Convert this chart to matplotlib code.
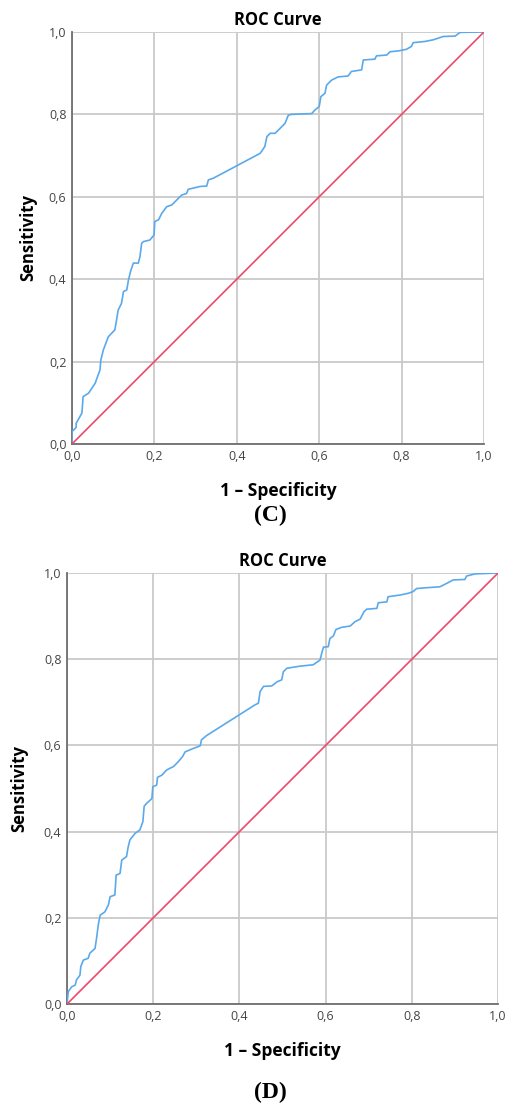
import matplotlib
matplotlib.use("Agg")
import matplotlib.pyplot as plt
from matplotlib.ticker import FuncFormatter

# ROC curve points (1 - specificity, sensitivity)
fpr_c = [0.0, 0.0, 0.01, 0.01, 0.024, 0.027, 0.04, 0.056, 0.068, 0.07, 0.076, 0.088,
         0.104, 0.108, 0.112, 0.12, 0.125, 0.133, 0.137, 0.143, 0.149, 0.161, 0.165,
         0.169, 0.173, 0.189, 0.199, 0.201, 0.21, 0.218, 0.23, 0.242, 0.254, 0.266,
         0.278, 0.282, 0.311, 0.327, 0.331, 0.343, 0.456, 0.46, 0.468, 0.473, 0.481,
         0.493, 0.505, 0.517, 0.525, 0.533, 0.582, 0.59, 0.6, 0.604, 0.614, 0.618,
         0.63, 0.646, 0.67, 0.678, 0.703, 0.707, 0.735, 0.739, 0.764, 0.772, 0.792,
         0.812, 0.824, 0.828, 0.857, 0.877, 0.901, 0.93, 0.942, 1.0]
tpr_c = [0.0, 0.03, 0.04, 0.05, 0.075, 0.115, 0.123, 0.147, 0.18, 0.204, 0.228, 0.26,
         0.277, 0.30, 0.325, 0.341, 0.37, 0.374, 0.398, 0.422, 0.439, 0.439, 0.455,
         0.487, 0.491, 0.495, 0.507, 0.54, 0.544, 0.56, 0.576, 0.58, 0.592, 0.604,
         0.608, 0.618, 0.625, 0.626, 0.641, 0.645, 0.705, 0.71, 0.722, 0.746, 0.754,
         0.754, 0.766, 0.778, 0.798, 0.80, 0.802, 0.811, 0.819, 0.843, 0.851, 0.871,
         0.883, 0.891, 0.893, 0.904, 0.908, 0.932, 0.934, 0.942, 0.944, 0.952, 0.954,
         0.958, 0.965, 0.974, 0.977, 0.981, 0.989, 0.99, 0.999, 1.0]

fpr_d = [0.0, 0.003, 0.011, 0.019, 0.022, 0.03, 0.032, 0.038, 0.049, 0.053, 0.065,
         0.069, 0.073, 0.077, 0.088, 0.096, 0.1, 0.111, 0.114, 0.123, 0.127, 0.138,
         0.142, 0.146, 0.158, 0.169, 0.176, 0.179, 0.185, 0.193, 0.197, 0.199, 0.208,
         0.21, 0.22, 0.231, 0.247, 0.258, 0.268, 0.274, 0.293, 0.309, 0.312, 0.324,
         0.436, 0.444, 0.448, 0.456, 0.475, 0.488, 0.498, 0.502, 0.51, 0.541, 0.571,
         0.587, 0.591, 0.595, 0.606, 0.61, 0.618, 0.624, 0.637, 0.657, 0.668, 0.68,
         0.689, 0.695, 0.719, 0.722, 0.742, 0.745, 0.773, 0.792, 0.803, 0.811, 0.835,
         0.865, 0.881, 0.896, 0.923, 0.927, 0.947, 1.0]
tpr_d = [0.0, 0.029, 0.04, 0.044, 0.056, 0.067, 0.087, 0.102, 0.106, 0.118, 0.129,
         0.156, 0.187, 0.206, 0.214, 0.23, 0.249, 0.253, 0.299, 0.303, 0.334, 0.342,
         0.365, 0.381, 0.396, 0.404, 0.423, 0.459, 0.466, 0.473, 0.477, 0.504, 0.508,
         0.526, 0.531, 0.543, 0.551, 0.562, 0.574, 0.585, 0.593, 0.599, 0.613, 0.623,
         0.694, 0.698, 0.725, 0.737, 0.738, 0.748, 0.752, 0.771, 0.779, 0.784, 0.787,
         0.798, 0.814, 0.828, 0.829, 0.848, 0.854, 0.869, 0.874, 0.877, 0.887, 0.893,
         0.91, 0.916, 0.918, 0.931, 0.933, 0.945, 0.949, 0.953, 0.957, 0.964, 0.966,
         0.968, 0.976, 0.984, 0.985, 0.993, 0.998, 1.0]

ticks = [0.0, 0.2, 0.4, 0.6, 0.8, 1.0]
panel_labels = ["(C)", "(D)"]

plt.rcParams['font.family'] = ['Open Sans', 'DejaVu Sans']

fig = plt.figure(figsize=(5.05, 11.06), dpi=100)
ax_c = fig.add_axes([0.1426, 0.5986, 0.8158, 0.3725])
ax_d = fig.add_axes([0.1327, 0.0922, 0.8535, 0.3897])

comma = FuncFormatter(lambda v, p: f"{v:.1f}".replace(".", ","))

panels = [(ax_c, fpr_c, tpr_c, 8, 515), (ax_d, fpr_d, tpr_d, 11, 1092)]
for (ax, fpr, tpr, ylpad, lab_y), lab in zip(panels, panel_labels):
    ax.plot(fpr, tpr, color="#5aa9ec", lw=1.2, zorder=3)
    ax.plot([0, 1], [0, 1], color="#f2466a", lw=1.2, zorder=3)
    ax.set_xlim(0, 1)
    ax.set_ylim(0, 1)
    ax.set_xticks(ticks)
    ax.set_yticks(ticks)
    ax.xaxis.set_major_formatter(comma)
    ax.yaxis.set_major_formatter(comma)
    ax.grid(True, color="#c9c9c9", lw=1.3, zorder=0)
    ax.set_axisbelow(True)
    for s in ["top", "right"]:
        ax.spines[s].set_visible(False)
    for s in ["left", "bottom"]:
        ax.spines[s].set_color("#6e6e6e")
        ax.spines[s].set_linewidth(1.3)
    ax.tick_params(length=0, labelsize=9, colors="#444444", pad=4)
    ax.set_title("ROC Curve", fontsize=12, fontweight="bold", pad=5)
    ax.set_xlabel("1 \u2013 Specificity", fontsize=12.5, fontweight="bold", labelpad=14)
    ax.set_ylabel("Sensitivity", fontsize=12, fontweight="bold", labelpad=ylpad)
    fig.text(0.535, 1 - lab_y / 1106, lab, fontsize=17, fontweight="bold",
             family="Liberation Serif", ha="center", va="center")

fig.savefig("out.png", dpi=100)
